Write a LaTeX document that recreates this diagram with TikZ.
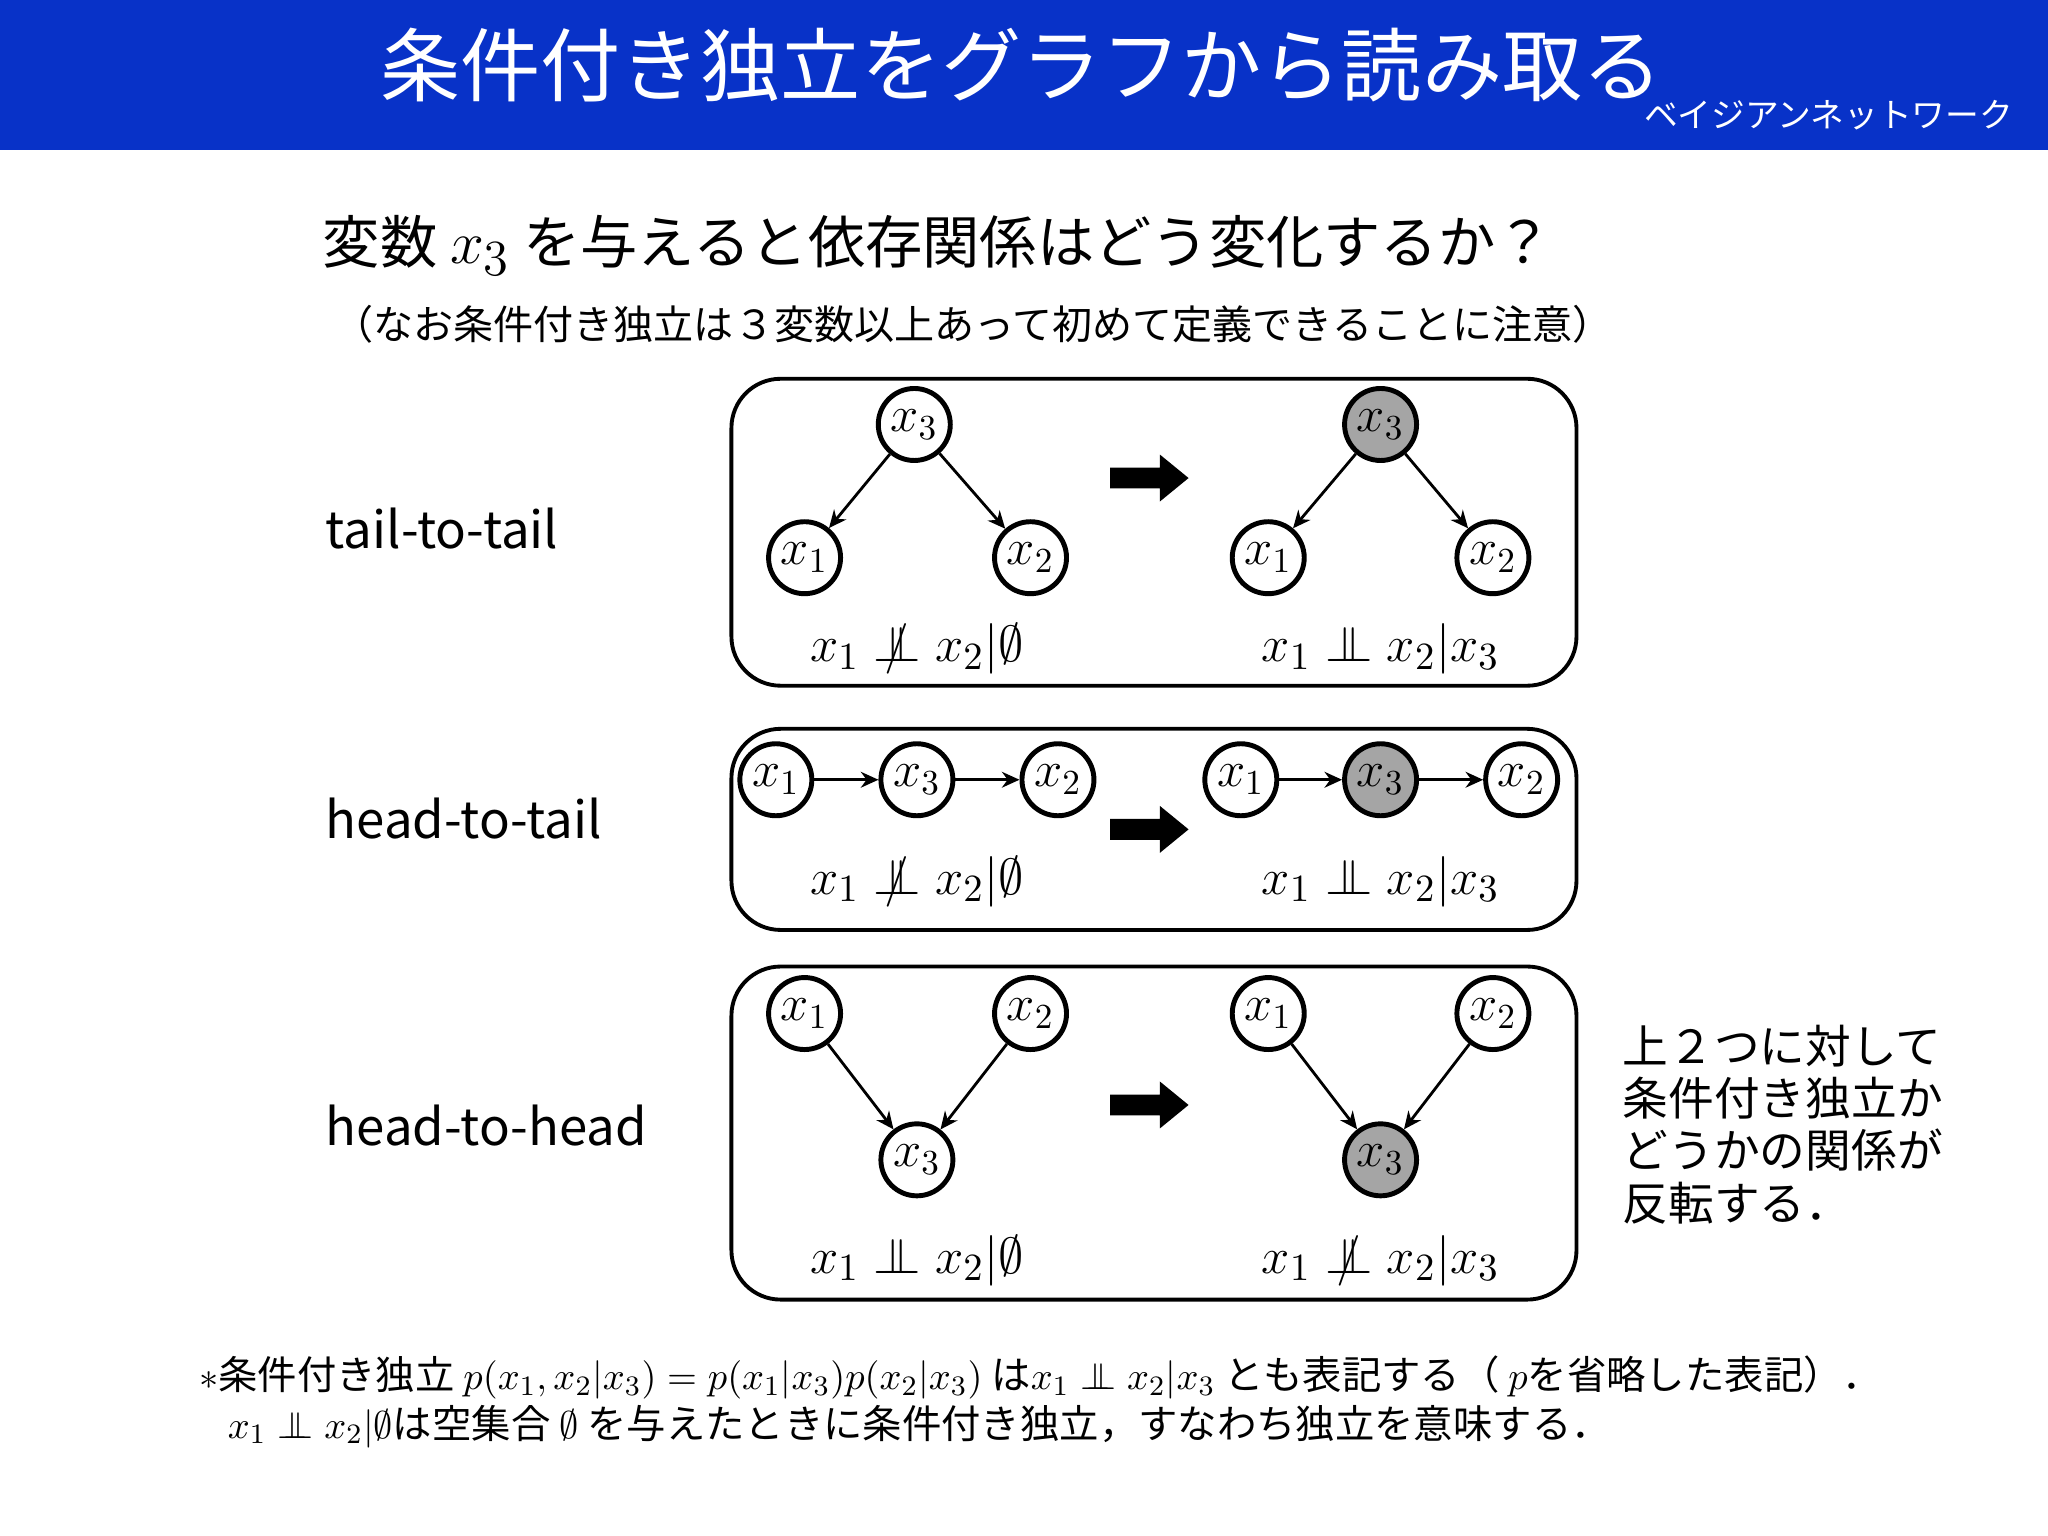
\documentclass[tikz,border=0pt]{standalone}
\usepackage{fontspec}
\setmainfont{Noto Sans CJK JP}
\usetikzlibrary{arrows.meta}
\newcommand{\indep}{\mathrel{\perp\mkern-11mu\perp}}
\newcommand{\nindep}{\mathrel{\ooalign{$\perp\mkern-11mu\perp$\cr\hidewidth$/$\hidewidth\cr}}}
\definecolor{titleblue}{RGB}{8,50,200}
\definecolor{given}{RGB}{165,165,165}
\tikzset{
 var/.style={circle,draw,line width=1.4pt,minimum size=7.2mm,inner sep=0pt,font=\fontsize{14}{14}\selectfont},
 obs/.style={var,fill=given},
 grp/.style={draw,line width=1.1pt,rounded corners=14pt},
 edge/.style={-{Stealth[length=5pt,width=4.5pt]},line width=0.8pt},
 lbl/.style={anchor=west,font=\fontsize{14.5}{15}\selectfont},
 frm/.style={font=\fontsize{15}{15}\selectfont}
}
\begin{document}
\begin{tikzpicture}[x=0.01306cm,y=-0.01306cm]
\useasboundingbox (0,0) rectangle (1568,1176);
\fill[titleblue] (0,0) rectangle (1568,115);
\node[white,font=\fontsize{22.8}{23}\selectfont] (title) at (782,50) {条件付き独立をグラフから読み取る};
\node[white,font=\fontsize{9.6}{10}\selectfont] (sub) at (1400,88) {ベイジアンネットワーク};
\node[font=\fontsize{16.3}{16}\selectfont] (q) at (718,188) {変数 {\fontsize{19}{19}\selectfont$x_3$} を与えると依存関係はどう変化するか？};
\node[font=\fontsize{11.4}{12}\selectfont] (note) at (745,248) {（なお条件付き独立は３変数以上あって初めて定義できることに注意）};
\node[lbl] (l1) at (240,405) {tail-to-tail};
\node[lbl] (l2) at (240,627) {head-to-tail};
\node[lbl] (l3) at (240,862) {head-to-head};
\draw[grp] (560,290) rectangle (1207,525);
\draw[grp] (560,558) rectangle (1207,712);
\draw[grp] (560,740) rectangle (1207,995);
\foreach \yy in {366,635,846}{
 \fill (850,\yy-8) -- (888,\yy-8) -- (888,\yy-18) -- (910,\yy) -- (888,\yy+18) -- (888,\yy+8) -- (850,\yy+8) -- cycle;}
% box 1
\node[var] (a3) at (700,325) {$x_3$};
\node[var] (a1) at (616,427) {$x_1$};
\node[var] (a2) at (789,427) {$x_2$};
\node[obs] (b3) at (1057,325) {$x_3$};
\node[var] (b1) at (971,427) {$x_1$};
\node[var] (b2) at (1143,427) {$x_2$};
\draw[edge] (a3)--(a1); \draw[edge] (a3)--(a2);
\draw[edge] (b3)--(b1); \draw[edge] (b3)--(b2);
\node[frm] (fa) at (702,497) {$x_1 \nindep x_2|\emptyset$};
\node[frm] (fb) at (1057,497) {$x_1 \indep x_2|x_3$};
% box 2
\node[var] (c1) at (594,597) {$x_1$};
\node[var] (c3) at (702,597) {$x_3$};
\node[var] (c2) at (810,597) {$x_2$};
\node[var] (d1) at (950,597) {$x_1$};
\node[obs] (d3) at (1057,597) {$x_3$};
\node[var] (d2) at (1165,597) {$x_2$};
\draw[edge] (c1)--(c3); \draw[edge] (c3)--(c2);
\draw[edge] (d1)--(d3); \draw[edge] (d3)--(d2);
\node[frm] (fc) at (702,675) {$x_1 \nindep x_2|\emptyset$};
\node[frm] (fd) at (1057,675) {$x_1 \indep x_2|x_3$};
% box 3
\node[var] (e1) at (616,776) {$x_1$};
\node[var] (e2) at (789,776) {$x_2$};
\node[var] (e3) at (702,888) {$x_3$};
\node[var] (g1) at (971,776) {$x_1$};
\node[var] (g2) at (1143,776) {$x_2$};
\node[obs] (g3) at (1057,888) {$x_3$};
\draw[edge] (e1)--(e3); \draw[edge] (e2)--(e3);
\draw[edge] (g1)--(g3); \draw[edge] (g2)--(g3);
\node[frm] (fe) at (702,965) {$x_1 \indep x_2|\emptyset$};
\node[frm] (fg) at (1057,965) {$x_1 \nindep x_2|x_3$};
\node[anchor=north west,align=left,font=\fontsize{13}{14.9}\selectfont] (side) at (1233,775) {上２つに対して\\条件付き独立か\\どうかの関係が\\反転する．};
\node[anchor=west,font=\fontsize{11.2}{11}\selectfont] (fn1) at (143,1055) {$*$条件付き独立 $p(x_1,x_2|x_3)=p(x_1|x_3)p(x_2|x_3)$ は$x_1\indep x_2|x_3$ とも表記する（ $p$を省略した表記）．};
\node[anchor=west,font=\fontsize{11.2}{11}\selectfont] (fn2) at (165,1092) {$x_1\indep x_2|\emptyset$は空集合 $\emptyset$ を与えたときに条件付き独立，すなわち独立を意味する．};
\end{tikzpicture}
\end{document}
